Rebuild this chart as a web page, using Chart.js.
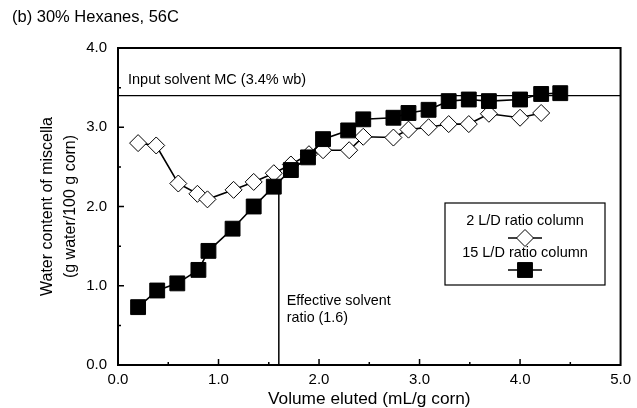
<!DOCTYPE html>
<html>
<head>
<meta charset="utf-8">
<script src="https://cdn.jsdelivr.net/npm/chart.js@4"></script>
<style>
  html, body { margin: 0; padding: 0; background: #fff; }
  #wrap { width: 637px; height: 408px; }
</style>
</head>
<body>
<div id="wrap"><canvas id="myChart" width="637" height="408"></canvas></div>
<script>
const FONT = '"Liberation Sans", Arial, sans-serif';

// 2 L/D ratio column (open diamonds)
const volume2 = [0.2, 0.38, 0.6, 0.79, 0.89, 1.15, 1.35, 1.55, 1.72, 1.9, 2.04, 2.3, 2.44, 2.74, 2.89, 3.09, 3.29, 3.49, 3.69, 4.0, 4.21];
const water2  = [2.8, 2.77, 2.29, 2.16, 2.09, 2.21, 2.31, 2.42, 2.53, 2.66, 2.71, 2.71, 2.88, 2.87, 2.97, 3.0, 3.04, 3.04, 3.17, 3.12, 3.18];

// 15 L/D ratio column (filled squares)
const volume15 = [0.2, 0.39, 0.59, 0.8, 0.9, 1.14, 1.35, 1.55, 1.72, 1.89, 2.04, 2.29, 2.44, 2.74, 2.89, 3.09, 3.29, 3.49, 3.69, 4.0, 4.21, 4.4];
const water15  = [0.73, 0.94, 1.03, 1.2, 1.44, 1.72, 2.0, 2.25, 2.46, 2.62, 2.85, 2.96, 3.1, 3.12, 3.18, 3.22, 3.33, 3.35, 3.33, 3.35, 3.42, 3.43];

const inputMC = 3.4;       // input solvent MC line
const effRatio = 1.6;      // effective solvent ratio line
const effRatioTop = 2.25;  // where the vertical line stops

const xTicks = [0, 1, 2, 3, 4, 5];
const yTicks = [0, 1, 2, 3, 4];

const toPoints = (xs, ys) => xs.map((x, i) => ({ x: x, y: ys[i] }));

const decor = {
  id: 'decor',
  beforeDatasetsDraw(chart) {
    const { ctx, chartArea: a, scales: { x, y } } = chart;
    ctx.save();
    ctx.strokeStyle = '#000';
    // input solvent MC line
    ctx.lineWidth = 1.2;
    ctx.beginPath();
    ctx.moveTo(a.left, y.getPixelForValue(inputMC));
    ctx.lineTo(a.right, y.getPixelForValue(inputMC));
    ctx.stroke();
    // effective solvent ratio line
    ctx.lineWidth = 1.5;
    ctx.beginPath();
    ctx.moveTo(x.getPixelForValue(effRatio), a.bottom);
    ctx.lineTo(x.getPixelForValue(effRatio), y.getPixelForValue(effRatioTop));
    ctx.stroke();
    ctx.restore();
  },
  afterDraw(chart) {
    const { ctx, chartArea: a, scales: { x, y } } = chart;
    ctx.save();
    ctx.strokeStyle = '#000';
    ctx.fillStyle = '#000';

    // frame
    ctx.lineWidth = 2;
    ctx.strokeRect(a.left, a.top, a.right - a.left, a.bottom - a.top);

    // inward ticks (major every 1, minor every 0.5)
    ctx.lineWidth = 1.5;
    ctx.beginPath();
    for (let v = 0.5; v < 5; v += 0.5) {
      const px = x.getPixelForValue(v);
      const len = Number.isInteger(v) ? 6 : 3;
      ctx.moveTo(px, a.bottom);
      ctx.lineTo(px, a.bottom - len);
    }
    for (let v = 0.5; v < 4; v += 0.5) {
      const py = y.getPixelForValue(v);
      const len = Number.isInteger(v) ? 6 : 3;
      ctx.moveTo(a.left, py);
      ctx.lineTo(a.left + len, py);
    }
    ctx.stroke();

    // title
    ctx.font = '16.5px ' + FONT;
    ctx.textAlign = 'left';
    ctx.textBaseline = 'middle';
    ctx.fillText('(b) 30% Hexanes, 56C', 12, 17);

    // annotations
    ctx.font = '14.5px ' + FONT;
    ctx.fillText('Input solvent MC (3.4% wb)', 128, y.getPixelForValue(inputMC) - 16);
    ctx.font = '14.3px ' + FONT;
    ctx.fillText('Effective solvent', x.getPixelForValue(effRatio) + 8, 301);
    ctx.fillText('ratio (1.6)', x.getPixelForValue(effRatio) + 8, 318);

    // axis titles
    ctx.font = '17.3px ' + FONT;
    ctx.textAlign = 'center';
    ctx.fillText('Volume eluted (mL/g corn)', (a.left + a.right) / 2, 399);
    ctx.save();
    ctx.translate(48, (a.top + a.bottom) / 2);
    ctx.rotate(-Math.PI / 2);
    ctx.font = '16px ' + FONT;
    ctx.fillText('Water content of miscella', 0, 0);
    ctx.fillText('(g water/100 g corn)', 0, 23);
    ctx.restore();

    // legend box
    const bx = 445, by = 203, bw = 160, bh = 82, cx = bx + bw / 2;
    ctx.lineWidth = 1.2;
    ctx.strokeRect(bx, by, bw, bh);
    ctx.font = '14.5px ' + FONT;
    const ds = chart.data.datasets;
    const rows = [[ds[1], 221, 238], [ds[0], 253, 270]];
    rows.forEach(([d, ty, my]) => {
      ctx.fillStyle = '#000';
      ctx.fillText(d.label, cx, ty);
      ctx.lineWidth = 1.5;
      ctx.beginPath();
      ctx.moveTo(cx - 17, my);
      ctx.lineTo(cx + 17, my);
      ctx.stroke();
      ctx.lineWidth = 1;
      ctx.fillStyle = d.pointBackgroundColor;
      ctx.beginPath();
      if (d.pointStyle === 'rectRot') {
        const r = d.pointRadius;
        ctx.moveTo(cx, my - r); ctx.lineTo(cx + r, my); ctx.lineTo(cx, my + r); ctx.lineTo(cx - r, my); ctx.closePath();
      } else {
        const s = d.pointRadius * Math.SQRT1_2;
        ctx.rect(cx - s, my - s, 2 * s, 2 * s);
      }
      ctx.fill();
      ctx.stroke();
    });
    ctx.restore();
  }
};

const ctx = document.getElementById('myChart');
const config = {
  type: 'scatter',
  data: {
    datasets: [{
      label: '15 L/D ratio column',
      data: toPoints(volume15, water15),
      showLine: true,
      borderColor: '#000',
      borderWidth: 1.6,
      pointStyle: 'rect',
      pointRadius: 10.5,
      pointBackgroundColor: '#000',
      pointBorderColor: '#000',
      pointBorderWidth: 1,
      order: 0
    }, {
      label: '2 L/D ratio column',
      data: toPoints(volume2, water2),
      showLine: true,
      borderColor: '#000',
      borderWidth: 1.6,
      pointStyle: 'rectRot',
      pointRadius: 8.5,
      pointBackgroundColor: '#fff',
      pointBorderColor: '#000',
      pointBorderWidth: 1,
      order: 1
    }]
  },
  options: {
    responsive: false,
    animation: false,
    events: [],
    layout: { padding: { top: 48, right: 16, left: 0, bottom: 0 } },
    plugins: { legend: { display: false }, tooltip: { enabled: false } },
    scales: {
      x: {
        type: 'linear', min: 0, max: 5,
        afterBuildTicks: s => { s.ticks = xTicks.map(v => ({ value: v })); },
        afterFit: s => { s.height = 43; },
        grid: { display: false, drawTicks: false },
        border: { display: false },
        ticks: { color: '#000', font: { size: 15, family: FONT }, padding: 6, maxRotation: 0,
                 callback: v => v.toFixed(1) }
      },
      y: {
        type: 'linear', min: 0, max: 4,
        afterBuildTicks: s => { s.ticks = yTicks.map(v => ({ value: v })); },
        afterFit: s => { s.width = 118; },
        grid: { display: false, drawTicks: false },
        border: { display: false },
        ticks: { color: '#000', font: { size: 15, family: FONT }, padding: 11,
                 callback: v => v.toFixed(1) }
      }
    }
  },
  plugins: [decor]
};
new Chart(ctx, config);
</script>
</body>
</html>
